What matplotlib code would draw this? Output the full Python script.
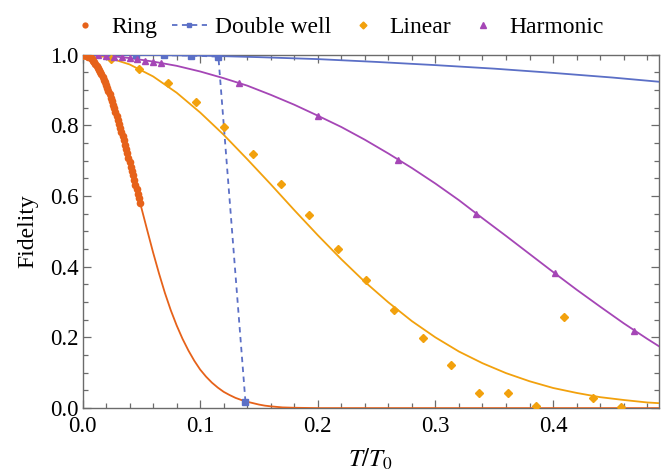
import matplotlib
matplotlib.use("Agg")
import matplotlib.pyplot as plt
from matplotlib.lines import Line2D
from matplotlib.ticker import MultipleLocator

plt.rcParams['font.family'] = ['Liberation Serif', 'DejaVu Serif']
plt.rcParams['mathtext.fontset'] = 'stix'

# --- data ---
# Ring: simulated points and fitted curve
ring_t = [0.000, 0.001, 0.002, 0.003, 0.004, 0.005, 0.006, 0.007, 0.008, 0.009,
          0.010, 0.011, 0.012, 0.013, 0.014, 0.015, 0.016, 0.017, 0.018, 0.019,
          0.020, 0.021, 0.022, 0.023, 0.024, 0.025, 0.026, 0.027, 0.028, 0.029,
          0.030, 0.031, 0.032, 0.033, 0.034, 0.035, 0.036, 0.037, 0.038, 0.039,
          0.040, 0.041, 0.042, 0.043, 0.044, 0.045, 0.046, 0.047, 0.048, 0.049]
ring_f = [1.000, 1.000, 0.999, 0.998, 0.996, 0.994, 0.992, 0.989, 0.986, 0.982,
          0.978, 0.973, 0.968, 0.962, 0.957, 0.950, 0.944, 0.937, 0.929, 0.921,
          0.913, 0.905, 0.896, 0.887, 0.878, 0.868, 0.858, 0.848, 0.837, 0.826,
          0.815, 0.804, 0.793, 0.781, 0.769, 0.757, 0.745, 0.733, 0.721, 0.708,
          0.696, 0.683, 0.670, 0.658, 0.645, 0.632, 0.619, 0.606, 0.593, 0.580]
ring_fit_t = [0.00, 0.01, 0.02, 0.03, 0.04, 0.05, 0.055, 0.06, 0.065, 0.07, 0.075,
              0.08, 0.085, 0.09, 0.095, 0.10, 0.105, 0.11, 0.115, 0.12, 0.125,
              0.13, 0.135, 0.14, 0.145, 0.15, 0.155, 0.16, 0.17, 0.18, 0.20, 0.49]
ring_fit_f = [1.000, 0.978, 0.913, 0.815, 0.696, 0.567, 0.503, 0.440, 0.381, 0.326, 0.277,
              0.234, 0.196, 0.163, 0.134, 0.109, 0.089, 0.072, 0.058, 0.046, 0.037,
              0.029, 0.023, 0.018, 0.014, 0.010, 0.007, 0.005, 0.002, 0.001, 0.000, 0.000]

# Double well
dw_t = [0.000, 0.0229, 0.0458, 0.0689, 0.0920, 0.1155, 0.1385]
dw_f = [1.000, 1.000, 0.999, 0.998, 0.997, 0.994, 0.018]
dw_fit_t = [0.00, 0.05, 0.10, 0.15, 0.20, 0.25, 0.30, 0.35, 0.40, 0.45, 0.49]
dw_fit_f = [1.000, 0.999, 0.997, 0.9925, 0.987, 0.979, 0.970, 0.960, 0.948, 0.935, 0.923]

# Linear
lin_t = [0.0000, 0.0241, 0.0482, 0.0723, 0.0964, 0.1205, 0.1446, 0.1687, 0.1928, 0.2169,
         0.2410, 0.2651, 0.2892, 0.3133, 0.3374, 0.3615, 0.3856, 0.4097, 0.4338, 0.4579]
lin_f = [1.000, 0.988, 0.960, 0.920, 0.865, 0.796, 0.718, 0.634, 0.545, 0.451,
         0.362, 0.277, 0.197, 0.123, 0.044, 0.042, 0.006, 0.258, 0.028, 0.002]
lin_fit_t = [0.00, 0.02, 0.04, 0.06, 0.08, 0.10, 0.12, 0.14, 0.16, 0.18, 0.20, 0.22, 0.24,
             0.26, 0.28, 0.30, 0.32, 0.34, 0.36, 0.38, 0.40, 0.42, 0.44, 0.46, 0.48, 0.49]
lin_fit_f = [1.000, 0.993, 0.972, 0.938, 0.892, 0.836, 0.773, 0.704, 0.633, 0.560, 0.489,
             0.421, 0.357, 0.299, 0.246, 0.200, 0.160, 0.127, 0.099, 0.076, 0.057, 0.043,
             0.031, 0.023, 0.016, 0.014]

# Harmonic
har_t = [0.0000, 0.0067, 0.0133, 0.0200, 0.0267, 0.0333, 0.0400, 0.0467, 0.0533, 0.0600,
         0.0667, 0.1334, 0.2002, 0.2679, 0.3346, 0.4014, 0.4690]
har_f = [1.000, 0.999, 0.998, 0.996, 0.994, 0.992, 0.989, 0.986, 0.983, 0.979,
         0.975, 0.920, 0.827, 0.703, 0.550, 0.381, 0.219]
har_fit_t = [0.00, 0.02, 0.04, 0.06, 0.08, 0.10, 0.12, 0.14, 0.16, 0.18, 0.20, 0.22, 0.24,
             0.26, 0.28, 0.30, 0.32, 0.34, 0.36, 0.38, 0.40, 0.42, 0.44, 0.46, 0.48, 0.49]
har_fit_f = [1.000, 0.997, 0.990, 0.980, 0.968, 0.952, 0.933, 0.912, 0.886, 0.858, 0.827,
             0.795, 0.759, 0.720, 0.679, 0.635, 0.588, 0.537, 0.487, 0.436, 0.385, 0.335,
             0.287, 0.240, 0.196, 0.175]

c_ring = '#E6621A'
c_dw = '#5B6FC6'
c_lin = '#F2A10D'
c_har = '#A546B6'
frame = '#6b6b6b'

fig = plt.figure(figsize=(6.71, 4.74), dpi=100)
ax = fig.add_axes([0.123, 0.139, 0.859, 0.746])

ax.plot(ring_fit_t, ring_fit_f, color=c_ring, lw=1.3, zorder=3)
ax.plot(lin_fit_t, lin_fit_f, color=c_lin, lw=1.3, zorder=3)
ax.plot(har_fit_t, har_fit_f, color=c_har, lw=1.3, zorder=3)
ax.plot(dw_fit_t, dw_fit_f, color=c_dw, lw=1.3, zorder=3)

ax.plot(dw_t, dw_f, color=c_dw, lw=1.3, ls=(0, (3, 2.5)), marker='s', ms=4, zorder=4)
ax.plot(lin_t, lin_f, ls='none', marker='D', ms=4.5, color=c_lin, zorder=4)
ax.plot(har_t, har_f, ls='none', marker='^', ms=5, color=c_har, zorder=4)
ax.plot(ring_t, ring_f, ls='none', marker='o', ms=5.5, color=c_ring, mew=0, zorder=5)

ax.set_xlim(0, 0.49)
ax.set_ylim(0, 1.0)
ax.xaxis.set_major_locator(MultipleLocator(0.1))
ax.xaxis.set_minor_locator(MultipleLocator(0.02))
ax.yaxis.set_major_locator(MultipleLocator(0.2))
ax.yaxis.set_minor_locator(MultipleLocator(0.05))
ax.xaxis.set_major_formatter(plt.FormatStrFormatter('%.1f'))
ax.yaxis.set_major_formatter(plt.FormatStrFormatter('%.1f'))
ax.tick_params(which='both', direction='in', top=True, right=True, colors=frame,
               labelcolor='black', labelsize=16.5, width=0.9)
ax.tick_params(which='major', length=6)
ax.tick_params(which='minor', length=3.5)
ax.tick_params(axis='y', pad=3)
ax.tick_params(axis='x', pad=6)
for s in ax.spines.values():
    s.set_color(frame)
    s.set_linewidth(1.0)

ax.set_xlabel(r'$T/T_0$', fontsize=18, labelpad=7)
ax.set_ylabel('Fidelity', fontsize=17, labelpad=8)

handles = [
    Line2D([], [], ls='none', marker='o', ms=4.5, color=c_ring, mew=0),
    Line2D([], [], color=c_dw, lw=1.3, ls=(0, (3, 2.5)), marker='s', ms=3.5),
    Line2D([], [], ls='none', marker='D', ms=3.5, color=c_lin),
    Line2D([], [], ls='none', marker='^', ms=4, color=c_har),
]
fig.legend(handles, ['Ring', 'Double well', 'Linear', 'Harmonic'], loc='upper center',
           bbox_to_anchor=(0.5, 1.01), ncol=4, frameon=False, fontsize=17,
           handlelength=1.5, handletextpad=0.35, columnspacing=0.6)

fig.savefig('out.png', dpi=100)
